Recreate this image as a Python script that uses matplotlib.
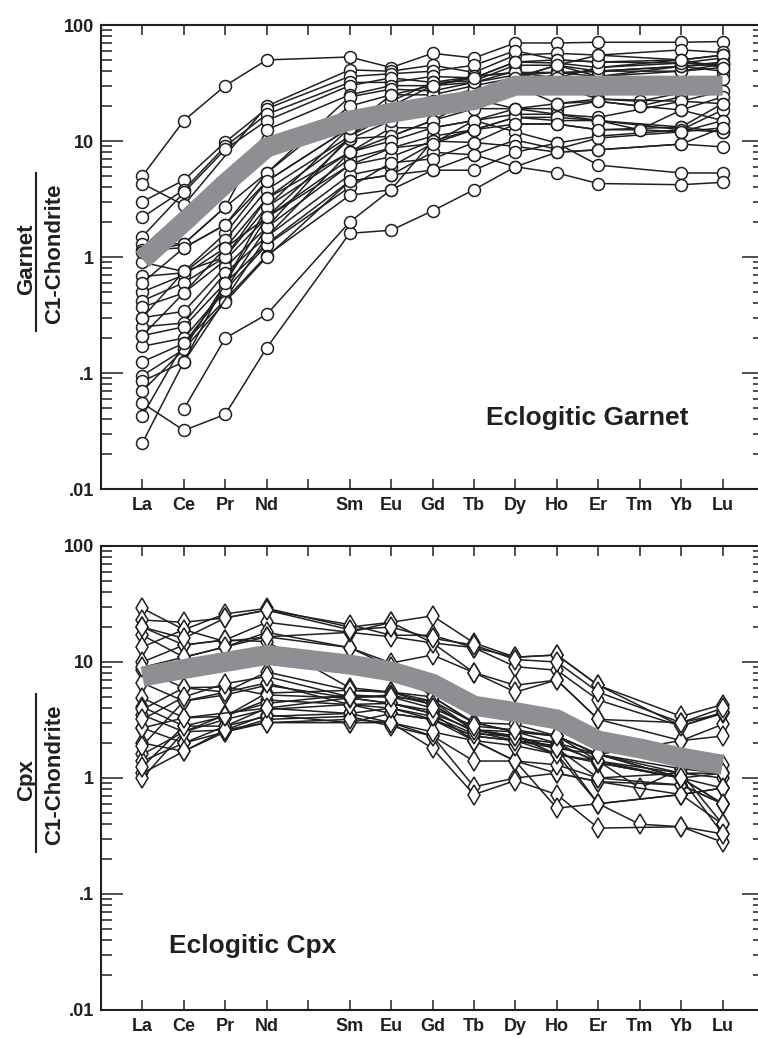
import numpy as np
import matplotlib
matplotlib.use("Agg")
import matplotlib.pyplot as plt
from matplotlib.lines import Line2D
from matplotlib.ticker import FixedLocator, FixedFormatter, LogLocator, NullFormatter

plt.rcParams['font.family'] = ['Liberation Sans', 'DejaVu Sans']
plt.rcParams['font.weight'] = 'bold'

n = np.nan
# Axis slots (Pm slot left empty)
axis_slots = ['La', 'Ce', 'Pr', 'Nd', '', 'Sm', 'Eu', 'Gd', 'Tb', 'Dy', 'Ho', 'Er', 'Tm', 'Yb', 'Lu']
ree = ['La', 'Ce', 'Pr', 'Nd', 'Sm', 'Eu', 'Gd', 'Tb', 'Dy', 'Ho', 'Er', 'Tm', 'Yb', 'Lu']
ytick_vals = [0.01, 0.1, 1, 10, 100]
ytick_text = ['.01', '.1', '1', '10', '100']

# ---- Eclogitic garnet (chondrite normalised) ----
garnet = [
    [5.0, 15, 30, 50, 53, 43, 57, 52, 70, 70, 71, n, 71, 72],
    [4.3, 2.8, n, 20, 41, 40, 45, 39, 55, 57, 55, n, 61, 58],
    [3.0, 4.6, 9.8, 19, 36, 38, 40, 45, 60, 50, 48, n, 50, 55],
    [2.2, 3.8, 9.0, 17, 32, 32, 36, 35, 48, 47, 43, n, 47, 52],
    [1.5, 3.6, 8.5, 15, 30, 35, 32, 33, 45, 45, 40, n, 44, 48],
    [1.3, 1.3, 2.7, 12.5, 25, 30, 30, 36, 39, 39, 36, n, 40, 46],
    [1.15, 1.2, 1.9, 5.3, 24, 28, 27, 32, 37, 39, 40, n, 40, 43],
    [0.9, 0.75, 1.6, 4.5, 13, 25, 25, 30, 35, 45, 36, n, 44, 40],
    [0.68, 0.73, 1.4, 3.8, 11, 17, 22, 28, 30, 21, 23, 22, 26, 37],
    [0.5, 0.7, 1.2, 3.2, 10.5, 11, 15, 23, 19, 19, 22, 20, 24, 34],
    [0.42, 0.6, 1.0, 2.7, 8, 13, 13, 15, 17, 17, 16, n, 22, 27],
    [0.37, 0.49, 0.94, 2.2, 7, 8.7, 11, 12.5, 16, 15, 15, 12.5, 18.5, 24],
    [0.30, 0.34, 0.82, 1.8, 6.2, 7.3, 10, 9.7, 14, 14, 12.5, n, 13.2, 21],
    [0.25, 0.27, 0.73, 1.5, 5.1, 6.0, 9.5, 15, 12, 9.6, 11, n, 12.5, 18.5],
    [0.21, 0.25, 0.6, 1.3, 4.5, 5.1, 8, 7.6, 10.2, 8.5, 10.6, n, 12, 15],
    [0.17, 0.2, 0.52, 1.27, 4.0, 6.5, 7, 9.7, 9, 8, 8.4, n, 9.4, 13],
    [0.125, 0.18, 0.43, 1.03, 3.4, 3.8, 5.6, 5.6, 8, 9.6, 6.2, n, 5.3, 5.3],
    [0.095, 0.16, 0.41, 1.0, 4.5, 5.1, 5.6, 7.6, 6.0, 5.3, 4.3, n, 4.2, 4.4],
    [0.085, 0.125, n, 1.5, 8, 11, 15, 19, 19, 17, 15, n, 13.2, 12],
    [0.07, 0.16, 0.6, 2.2, 10.4, 15, 20, 22, 30, 38, 40, n, 44, 46],
    [0.055, 0.032, 0.044, 0.165, 1.6, 1.7, 2.5, 3.8, 6.0, 8.0, 8.4, n, 9.4, 8.9],
    [0.043, 0.18, 0.52, 1.8, 11, 20, 30, 32, 40, 30, 23, n, 22, 21],
    [0.025, 0.125, 0.6, 2.7, 13, 22, 32, 36, 39, 35, 43, n, 50, 55],
    [n, 0.049, 0.2, 0.32, 2.0, 3.8, 10, 12.5, 16, 16, 15, n, 12.5, 12],
    [1.1, 1.3, 2.7, 5.3, 20, 25, 30, 35, 48, 50, 48, n, 47, 46],
    [0.6, 1.2, 1.9, 4.5, 13, 17, 20, 22, 35, 45, 55, n, 50, 43],
    [0.3, 0.75, 1.0, 3.2, 8, 10, 13, 15, 19, 21, 22, 20, 18.5, 15],
    [0.21, 0.49, 1.2, 2.2, 6.2, 8.7, 9.5, 12.5, 14, 14, 12.5, 12.5, 12, 13],
]
garnet_avg = [0.95, 2.0, 4.3, 8.8, 15, 17.5, 20, 22.5, 30, 30, 30, 30, 30, 30]

# ---- Eclogitic clinopyroxene (chondrite normalised) ----
cpx = [
    [29, 19, 26, 29, 20, 22, 25, 14.6, 11, 11.5, 6.3, n, 3.4, 4.3],
    [23, 22, 24, 28, 21, 17, 17, 13.3, 9.1, 8.5, 4.7, n, 2.8, 3.6],
    [20, 14, 15.5, 22, 18, 16.5, 14.6, 8.1, 6.3, 7.0, 3.2, n, 2.1, 2.9],
    [17, 11, 13.5, 18, 13.3, 9.8, 11.5, 8.1, 5.5, 7.0, 3.2, n, 3.0, 3.6],
    [13.5, 19, 15, 16.5, 13.3, 9.1, 5.0, 3.0, 2.5, 2.3, 1.6, n, 1.1, 1.0],
    [10, 14, 15.5, 15, 6.0, 5.5, 4.6, 2.6, 2.2, 2.0, 1.35, n, 1.0, 0.82],
    [8.6, 6.0, 5.5, 8.2, 5.7, 5.5, 4.3, 2.6, 2.3, 1.6, 1.4, 0.82, 1.2, 1.1],
    [6.6, 4.6, 5.2, 6.3, 4.9, 4.4, 3.6, 2.1, 1.4, 1.1, 0.93, n, 0.87, 0.6],
    [4.9, 3.3, 3.4, 4.7, 4.3, 3.6, 3.2, 2.3, 2.1, 1.6, 0.6, 0.4, 0.38, 0.33],
    [4.1, 2.8, 2.8, 4.0, 3.6, 3.0, 2.3, 0.84, 1.0, 1.1, 0.93, n, 0.72, 0.4],
    [3.5, 2.5, 2.6, 3.5, 3.0, 3.0, 1.8, 0.72, 0.95, 0.72, 0.37, n, 0.38, 0.28],
    [2.7, 2.0, 2.5, 3.2, 3.4, 2.8, 2.3, 1.4, 1.4, 0.55, 0.6, n, 0.72, 0.82],
    [2.0, 1.7, 2.5, 3.0, 3.0, 3.6, 3.2, 2.1, 1.4, 1.3, 1.0, n, 0.87, 0.6],
    [1.6, 2.5, 3.2, 3.9, 4.3, 4.4, 3.6, 2.6, 2.5, 2.0, 1.6, n, 1.0, 1.1],
    [1.4, 2.0, 2.8, 3.4, 3.6, 4.0, 3.2, 2.3, 2.1, 1.8, 1.0, n, 1.1, 0.4],
    [1.1, 1.7, 2.6, 3.0, 3.2, 3.0, 2.5, 2.1, 1.9, 1.6, 1.35, n, 1.0, 0.33],
    [1.0, 2.5, 3.5, 4.4, 5.2, 5.0, 4.6, 3.0, 2.5, 2.3, 1.6, n, 1.2, 1.3],
    [1.25, 2.8, 3.4, 5.4, 5.7, 5.5, 5.0, 3.0, 2.9, 2.3, 1.4, n, 1.1, 1.1],
    [3.9, 6.0, 6.1, 5.2, 4.9, 4.4, 3.8, 2.5, 2.1, 1.9, 1.4, n, 1.0, 0.6],
    [1.9, 4.6, 5.5, 6.6, 4.3, 4.0, 3.4, 2.4, 2.3, 1.8, 0.6, n, 0.72, 0.82],
    [2.7, 3.3, n, 4.0, 4.9, 5.2, 4.3, 2.6, 2.3, 1.8, 1.6, n, 2.1, 2.3],
    [9, 11, 13.5, 16.5, 18, 22, 14.6, 13.3, 11, 11.5, 6.3, n, 2.8, 3.7],
    [20, 16, 24, 28, 19, 20, 16, 14, 10.5, 10, 5.5, n, 3.0, 4.0],
    [3.2, 5.0, 6.5, 7.5, 5.0, 5.0, 4.0, 2.8, 2.6, 2.3, 1.6, n, 1.0, 0.6],
]
cpx_avg = [7.5, 8.7, 10, 11.5, 9.5, 8.3, 6.5, 4.2, 3.7, 3.2, 2.1, 1.8, 1.5, 1.3]

INK = '#231f20'
GREY = '#8e8f92'
W, H = 758, 1038
fig = plt.figure(figsize=(W / 100, H / 100), dpi=100)

xpos = np.array([axis_slots.index(e) for e in ree], dtype=float)


def px_axes(left, top, right, bottom):
    return fig.add_axes([left / W, 1 - bottom / H, (right - left) / W, (bottom - top) / H])


def style_axes(ax):
    ax.set_yscale('log')
    ax.set_ylim(0.01, 100)
    ax.set_xlim(-1, 15)
    ax.xaxis.set_major_locator(FixedLocator(range(len(axis_slots))))
    ax.xaxis.set_major_formatter(FixedFormatter(axis_slots))
    ax.yaxis.set_major_locator(FixedLocator(ytick_vals))
    ax.yaxis.set_major_formatter(FixedFormatter(ytick_text))
    ax.yaxis.set_minor_locator(LogLocator(base=10, subs=np.arange(2, 10), numticks=20))
    ax.yaxis.set_minor_formatter(NullFormatter())
    for s in ax.spines.values():
        s.set_linewidth(1.5)
        s.set_color(INK)
    ax.tick_params(axis='x', which='major', direction='in', top=True, bottom=True,
                   length=7.5, width=1.1, color=INK, pad=6, labelsize=13)
    ax.tick_params(axis='y', which='major', direction='in', left=True, right=True,
                   length=16, width=1.1, color=INK, pad=5, labelsize=13)
    ax.tick_params(axis='y', which='minor', direction='in', left=True, right=True,
                   length=8, width=1.1, color=INK)
    for lab in ax.get_xticklabels() + ax.get_yticklabels():
        lab.set_fontweight('bold')
        lab.set_color(INK)


def draw_panel(ax, series, avg, marker, ms):
    for s in series:
        v = np.array(s, dtype=float)
        m = ~np.isnan(v)
        ax.plot(xpos[m], v[m], '-', color=INK, lw=1.1, marker=marker, ms=ms,
                mfc='white', mec=INK, mew=1.1, zorder=3, clip_on=False)
    ax.plot(xpos, avg, '-', color=GREY, lw=14.4, solid_capstyle='butt',
            solid_joinstyle='miter', zorder=5)


ax1 = px_axes(101, 25, 764, 489)
style_axes(ax1)
draw_panel(ax1, garnet, garnet_avg, 'o', 8.6)
ax1.text(0.733, 0.138, 'Eclogitic Garnet', transform=ax1.transAxes, ha='center',
         va='baseline', fontsize=19, fontweight='bold', color=INK)

ax2 = px_axes(101, 546, 764, 1010)
style_axes(ax2)
draw_panel(ax2, cpx, cpx_avg, 'd', 10.5)
ax2.text(0.229, 0.123, 'Eclogitic Cpx', transform=ax2.transAxes, ha='center',
         va='baseline', fontsize=19, fontweight='bold', color=INK)


def frac_label(top_text, ycenter_top, ycenter_bot, bar_y0, bar_y1):
    fig.text(32 / W, 1 - ycenter_top / H, top_text, rotation=90, rotation_mode='anchor',
             ha='center', va='baseline', fontsize=16, fontweight='bold', color=INK)
    fig.text(60 / W, 1 - ycenter_bot / H, 'C1-Chondrite', rotation=90, rotation_mode='anchor',
             ha='center', va='baseline', fontsize=16, fontweight='bold', color=INK)
    fig.add_artist(Line2D([36 / W, 36 / W], [1 - bar_y0 / H, 1 - bar_y1 / H],
                          transform=fig.transFigure, color=INK, lw=1.5))


frac_label('Garnet', 259, 254, 173, 331)
frac_label('Cpx', 780, 775, 694, 852)

fig.savefig('out.png', dpi=100)
